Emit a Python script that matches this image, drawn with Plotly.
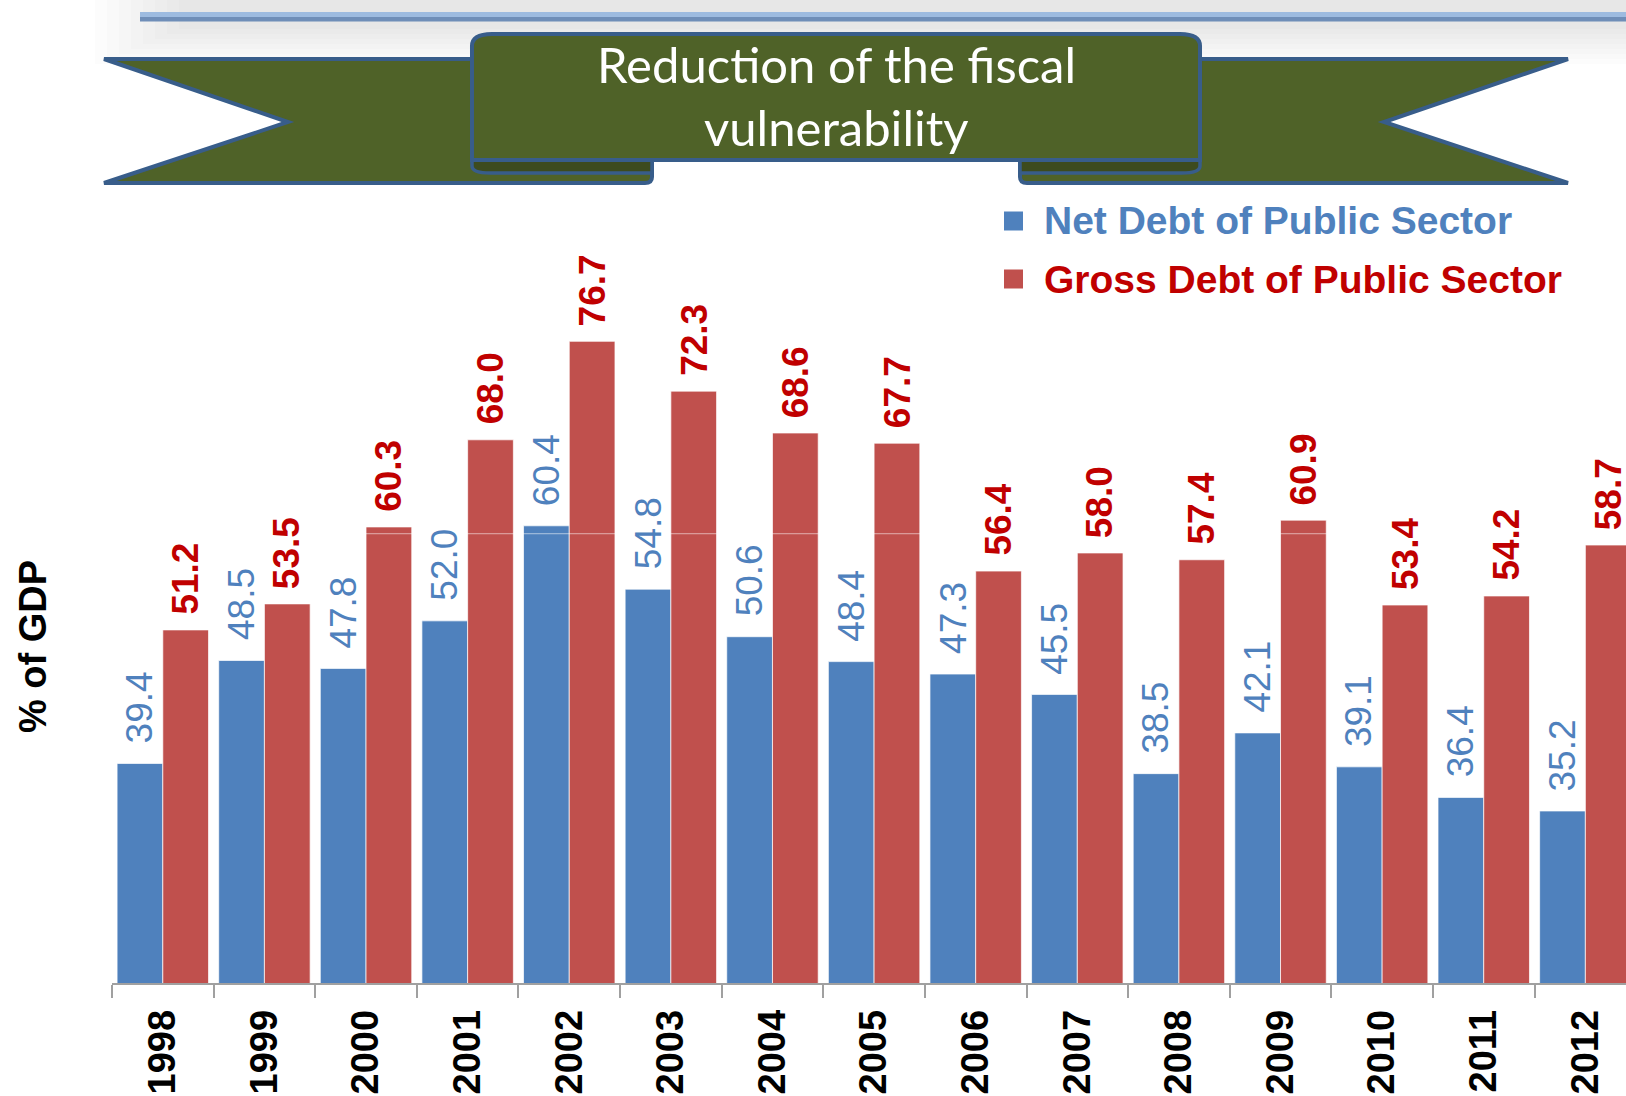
import plotly.graph_objects as go

# Public sector debt, % of GDP
years = ["1998", "1999", "2000", "2001", "2002", "2003", "2004", "2005",
         "2006", "2007", "2008", "2009", "2010", "2011", "2012"]
net_debt = [39.4, 48.5, 47.8, 52.0, 60.4, 54.8, 50.6, 48.4,
            47.3, 45.5, 38.5, 42.1, 39.1, 36.4, 35.2]
gross_debt = [51.2, 53.5, 60.3, 68.0, 76.7, 72.3, 68.6, 67.7,
              56.4, 58.0, 57.4, 60.9, 53.4, 54.2, 58.7]

series_names = ["Net Debt of Public Sector", "Gross Debt of Public Sector"]
title_lines = ["Reduction of the fiscal", "vulnerability"]
y_title = "% of GDP"

W, H = 1626, 1096
BLUE = "#4F81BD"
RED = "#C0504D"
RED_TEXT = "#C00000"
GREEN = "#4F6228"
GREEN_DARK = "#3D4B1E"
OUTLINE = "#385D8A"
ARIAL = "Liberation Sans, Arial, sans-serif"
BARGAP = 0.1


def px(x):
    return x / W


def py(y):
    return 1 - y / H


def path(cmds):
    out = []
    for c in cmds:
        op, pts = c[0], c[1:]
        coords = []
        for k in range(0, len(pts), 2):
            coords.append(f"{px(pts[k]):.5f},{py(pts[k + 1]):.5f}")
        out.append(op + " ".join(coords))
    return " ".join(out)


def mirror(cmds, cx2=1672):
    res = []
    for c in cmds:
        op, pts = c[0], list(c[1:])
        for k in range(0, len(pts), 2):
            pts[k] = cx2 - pts[k]
        res.append((op, *pts))
    return res


fig = go.Figure()
fig.add_trace(go.Bar(x=years, y=net_debt, name=series_names[0],
                     marker=dict(color=BLUE, line=dict(color="rgba(255,255,255,0.7)", width=1)),
                     showlegend=False))
fig.add_trace(go.Bar(x=years, y=gross_debt, name=series_names[1],
                     marker=dict(color=RED, line=dict(color="rgba(255,255,255,0.7)", width=1)),
                     showlegend=False))

shapes = []

# soft grey glow behind the header rule
for k in range(8):
    shapes.append(dict(type="rect", xref="paper", yref="paper",
                       x0=px(95 + k * 12), x1=px(W), y0=py(64 - k * 5), y1=py(0),
                       fillcolor="rgba(0,0,0,0.012)", line=dict(width=0), layer="below"))

# header rule
shapes.append(dict(type="rect", xref="paper", yref="paper",
                   x0=px(140), x1=px(W), y0=py(17), y1=py(12),
                   fillcolor="#9DBBE0", line=dict(width=0)))
shapes.append(dict(type="rect", xref="paper", yref="paper",
                   x0=px(140), x1=px(W), y0=py(21.5), y1=py(17),
                   fillcolor="#6F8EB8", line=dict(width=0)))

# ribbon tails
left_tail = [("M", 104, 59), ("L", 480, 59), ("L", 480, 160), ("L", 652, 160),
             ("L", 652, 177), ("Q", 652, 183, 645, 183), ("L", 104, 183),
             ("L", 288, 122), ("Z",)]
left_fold = [("M", 472, 160), ("L", 652, 160), ("L", 652, 173), ("L", 490, 173),
             ("Q", 472, 173, 472, 166), ("Z",)]
for cmds in (left_tail, mirror(left_tail)):
    shapes.append(dict(type="path", xref="paper", yref="paper", path=path(cmds),
                       fillcolor=GREEN, line=dict(color=OUTLINE, width=4)))
for cmds in (left_fold, mirror(left_fold)):
    shapes.append(dict(type="path", xref="paper", yref="paper", path=path(cmds),
                       fillcolor=GREEN_DARK, line=dict(color=OUTLINE, width=3.5)))

# ribbon centre panel
panel = [("M", 472, 46), ("Q", 472, 34, 492, 34), ("L", 1180, 34),
         ("Q", 1200, 34, 1200, 46), ("L", 1200, 160), ("L", 472, 160), ("Z",)]
shapes.append(dict(type="path", xref="paper", yref="paper", path=path(panel),
                   fillcolor=GREEN, line=dict(color=OUTLINE, width=4)))

# faint light rule across the tall bars
shapes.append(dict(type="line", xref="paper", yref="y", x0=px(112), x1=1, y0=59.7, y1=59.7,
                   line=dict(color="rgba(255,255,255,0.55)", width=1)))

# legend swatches
for row, col in ((221, BLUE), (279, RED)):
    shapes.append(dict(type="rect", xref="paper", yref="paper",
                       x0=px(1004), x1=px(1023), y0=py(row + 9.5), y1=py(row - 9.5),
                       fillcolor=col, line=dict(width=0)))

annotations = []

# header text
for line, yc in zip(title_lines, (64, 127)):
    annotations.append(dict(xref="paper", yref="paper", x=px(836), y=py(yc),
                            text=line, showarrow=False, xanchor="center", yanchor="middle",
                            font=dict(family="Lato, Open Sans, sans-serif", size=49, color="white")))

# legend text
for name, col, yc in zip(series_names, (BLUE, RED_TEXT), (221, 279)):
    annotations.append(dict(xref="paper", yref="paper", x=px(1042), y=py(yc),
                            text=name, showarrow=False, xanchor="left", yanchor="middle",
                            font=dict(family=ARIAL, size=39, color=col, weight="bold")))

# y-axis title
annotations.append(dict(xref="paper", yref="paper", x=px(33), y=py(647), text=y_title,
                        showarrow=False, textangle=-90, xanchor="center", yanchor="middle",
                        font=dict(family=ARIAL, size=38, color="black", weight="bold")))

# value labels above each bar
half = (1 - BARGAP) / 4
for i in range(len(years)):
    annotations.append(dict(xref="x", yref="y", x=i - half, y=net_debt[i],
                            text=f"{net_debt[i]:.1f}", showarrow=False, textangle=-90,
                            xanchor="center", yanchor="bottom", yshift=18,
                            font=dict(family=ARIAL, size=37, color=BLUE)))
    annotations.append(dict(xref="x", yref="y", x=i + half, y=gross_debt[i],
                            text=f"{gross_debt[i]:.1f}", showarrow=False, textangle=-90,
                            xanchor="center", yanchor="bottom", yshift=13,
                            font=dict(family=ARIAL, size=37, color=RED_TEXT, weight="bold")))

fig.update_layout(
    width=W, height=H, autosize=False,
    margin=dict(l=0, r=0, t=0, b=0),
    paper_bgcolor="white", plot_bgcolor="white",
    barmode="group", bargap=BARGAP, bargroupgap=0,
    shapes=shapes, annotations=annotations,
    xaxis=dict(type="category", domain=[px(112), 1], range=[-0.5, 14.40],
               tickson="boundaries", ticks="outside", ticklen=13, tickwidth=1.5,
               tickcolor="#A0A0A0", showline=True, linecolor="#A0A0A0", linewidth=1.5,
               tickangle=-90, showgrid=False, zeroline=False, ticklabelstandoff=10,
               tickfont=dict(family=ARIAL, size=38, color="black", weight="bold")),
    yaxis=dict(domain=[py(983), py(304)], range=[20, 80], showgrid=False,
               zeroline=False, showticklabels=False, showline=False, ticks=""),
)

fig.write_html("out.html")
